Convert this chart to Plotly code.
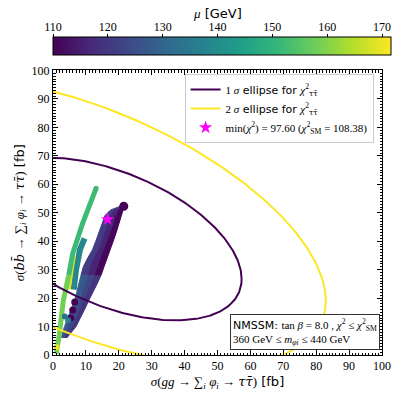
import numpy as np
import plotly.graph_objects as go
from plotly.colors import sample_colorscale

# ---------------- data ----------------
# chi^2 ellipses: centre (x, y) and covariance-like shape matrix
ell1_center = [17.96, 40.78]
ell1_shape = [[1550.1, -552.8], [-552.8, 818.1]]
ell2_center = [10.89, 47.01]
ell2_shape = [[5188.1, -2008.4], [-2008.4, 2533.5]]

# main scan cloud, read row by row: y level, left edge, two colour borders, right edge
rows_y = [6.0, 10, 13, 16, 19, 22, 25, 28, 31, 34, 37, 40, 43, 46, 49, 51, 52.5]
rows_left = [2.5, 3.5, 4.5, 5.5, 6.5, 7.2, 7.8, 8.5, 9.2, 10.5, 12.0, 13.0, 14.0, 15.0, 15.8, 17.5, 20.5]
rows_b1 = [3.1, 4.7, 5.8, 6.9, 8.0, 8.8, 9.8, 10.7, 11.4, 12.6, 13.9, 14.9, 15.8, 16.8, 17.6, 18.8, 21.0]
rows_b2 = [3.7, 5.9, 7.1, 8.3, 9.5, 10.5, 11.7, 12.8, 13.6, 14.6, 15.6, 16.6, 17.5, 18.5, 19.2, 20.1, 21.4]
rows_right = [4.2, 7.0, 8.3, 9.6, 10.8, 12.0, 13.4, 14.6, 15.5, 16.4, 17.3, 18.3, 19.2, 20.1, 20.8, 21.3, 21.8]
split_row = 7          # lower part rows[0..7], upper part rows[7..]
lower_mu = [127, 123, 119]   # left, middle, right strip
upper_mu = [121, 116, 111]

top_x = [21.5]
top_y = [52.3]
top_mu = [110]

dark_x = [5.4, 6.0, 6.6]
dark_y = [13.0, 15.8, 18.6]
dark_mu = [110, 110, 110]

dots_x = [1.1, 3.6, 4.6]
dots_y = [2.7, 13.5, 12.2]
dots_mu = [168, 132, 136]

# thin bands
teal_x = [6.3, 7.0, 8.2, 9.6]
teal_y = [23.0, 30.0, 37.0, 41.0]
teal_mu = 138
yellow_x = [4.9, 5.6, 6.5]
yellow_y = [23.0, 29.0, 35.0]
yellow_mu = 167
green_lo_x = [1.0, 1.9, 3.1, 4.8]
green_lo_y = [0.5, 7.1, 18.9, 28.1]
green_lo_mu = 157
green_hi_x = [4.8, 6.0, 9.0, 13.1]
green_hi_y = [28.1, 35.7, 46.3, 58.6]
green_hi_mu = 151

best_x = [16.6]
best_y = [47.7]

MU_MIN, MU_MAX = 110, 170
cbar_ticks = [110, 120, 130, 140, 150, 160, 170]
axis_ticks = list(range(0, 101, 10))

PURPLE = "#440154"
YELLOW = "#fde725"
SERIF = "Liberation Serif"
SANS = "DejaVu Sans"


def curve(cen, S):
    L = np.linalg.cholesky(np.array(S, float))
    t = np.linspace(0, 2 * np.pi, 400)
    pts = np.array(cen, float)[:, None] + L @ np.vstack([np.cos(t), np.sin(t)])
    return pts[0], pts[1]


def mucol(mu):
    return sample_colorscale("Viridis", [(mu - MU_MIN) / (MU_MAX - MU_MIN)])[0]


fig = go.Figure()

# teal band (behind the cloud)
fig.add_trace(go.Scatter(x=teal_x, y=teal_y, mode="lines", line=dict(color=mucol(teal_mu), width=6),
                         showlegend=False, hoverinfo="skip"))

# main cloud as coloured strips
edges = [rows_left, rows_b1, rows_b2, rows_right]
for lo, hi, mus in [(0, split_row, lower_mu), (split_row, len(rows_y) - 1, upper_mu)]:
    ys = rows_y[lo:hi + 1]
    for k in range(3):
        ea = edges[k][lo:hi + 1]
        eb = edges[k + 1][lo:hi + 1]
        px = list(ea) + list(eb[::-1])
        py = list(ys) + list(ys[::-1])
        col = mucol(mus[k])
        fig.add_trace(go.Scatter(x=px, y=py, mode="lines", fill="toself", fillcolor=col,
                                 line=dict(color=col, width=1), showlegend=False, hoverinfo="skip"))

fig.add_trace(go.Scatter(x=top_x, y=top_y, mode="markers",
                         marker=dict(size=9, color=top_mu, coloraxis="coloraxis", line=dict(width=0)),
                         showlegend=False))
fig.add_trace(go.Scatter(x=dark_x, y=dark_y, mode="markers",
                         marker=dict(size=7, color=dark_mu, coloraxis="coloraxis", line=dict(width=0)),
                         showlegend=False))

for bx, by, bmu, w in [(yellow_x, yellow_y, yellow_mu, 3),
                       (green_lo_x, green_lo_y, green_lo_mu, 5),
                       (green_hi_x, green_hi_y, green_hi_mu, 5)]:
    fig.add_trace(go.Scatter(x=bx, y=by, mode="lines", line=dict(color=mucol(bmu), width=w),
                             showlegend=False, hoverinfo="skip"))
fig.add_trace(go.Scatter(x=[green_hi_x[-1]], y=[green_hi_y[-1]], mode="markers",
                         marker=dict(size=5, color=[green_hi_mu], coloraxis="coloraxis", line=dict(width=0)),
                         showlegend=False))
fig.add_trace(go.Scatter(x=dots_x, y=dots_y, mode="markers",
                         marker=dict(size=6, color=dots_mu, coloraxis="coloraxis", line=dict(width=0)),
                         showlegend=False))

TT = '<span style="font-family:DejaVu Serif">τ</span><span style="font-family:DejaVu Serif">τ̄</span>'
chi = f'<span style="font-family:{SERIF}"><i>χ</i><sup>2</sup><sub>{TT}</sub></span>'
x1, y1 = curve(ell1_center, ell1_shape)
x2, y2 = curve(ell2_center, ell2_shape)
fig.add_trace(go.Scatter(x=x1, y=y1, mode="lines", line=dict(color=PURPLE, width=2),
                         name=f'<span style="font-family:{SERIF}">1 <i>σ</i></span> ellipse for {chi}'))
fig.add_trace(go.Scatter(x=x2, y=y2, mode="lines", line=dict(color=YELLOW, width=2),
                         name=f'<span style="font-family:{SERIF}">2 <i>σ</i></span> ellipse for {chi}'))
fig.add_trace(go.Scatter(x=best_x, y=best_y, mode="markers",
                         marker=dict(symbol="star", size=10, color="#ff00ff", line=dict(width=0)),
                         name=f'<span style="font-family:{SERIF}">min(<i>χ</i><sup>2</sup>) = 97.60 '
                              f'(<i>χ</i><sup>2</sup><sub>SM</sub> = 108.38)</span>'))

# helper axis for the colour bar labels
fig.add_trace(go.Scatter(x=[None], y=[None], xaxis="x2", yaxis="y2", showlegend=False, hoverinfo="skip"))

axis_common = dict(range=[0, 100], tickmode="array", tickvals=axis_ticks, ticks="inside", ticklen=5,
                   tickwidth=1, tickcolor="black", showline=True, linecolor="black", linewidth=1,
                   mirror="allticks", showgrid=False, zeroline=False,
                   minor=dict(dtick=1, tick0=0, ticks="inside", ticklen=2.5, tickwidth=0.8, tickcolor="black"),
                   tickfont=dict(family=SERIF, size=12, color="black"))

TTd = '<span style="font-family:DejaVu Serif"><i>ττ̄</i></span>'
fig.update_layout(
    width=401, height=399,
    margin=dict(l=53, r=10, t=30, b=44),
    paper_bgcolor="white", plot_bgcolor="white",
    xaxis=dict(domain=[0, 1], anchor="y",
               title=dict(text=f'<span style="font-family:{SERIF}"><i>σ</i>(<i>gg</i> → ∑<sub><i>i</i></sub> '
                               f'<i>φ<sub>i</sub></i> → </span>{TTd}<span style="font-family:{SERIF}">)</span> [fb]',
                          font=dict(family=SANS, size=13, color="black"), standoff=4),
               **axis_common),
    yaxis=dict(domain=[0, 0.8754], anchor="x",
               title=dict(text=f'<span style="font-family:{SERIF}"><i>σ</i>(</span>'
                               f'<span style="font-family:DejaVu Serif"><i>bb̄</i></span>'
                               f'<span style="font-family:{SERIF}"> → ∑<sub><i>i</i></sub> '
                               f'<i>φ<sub>i</sub></i> → </span>{TTd}<span style="font-family:{SERIF}">)</span> [fb]',
                          font=dict(family=SANS, size=13, color="black"), standoff=4),
               **axis_common),
    xaxis2=dict(domain=[0, 1], anchor="y2", side="top", range=[MU_MIN, MU_MAX], tickmode="array",
                tickvals=cbar_ticks, ticks="outside", ticklen=3, tickcolor="black", showline=False,
                showgrid=False, zeroline=False, ticklabelstandoff=-2,
                tickfont=dict(family=SERIF, size=12, color="black")),
    yaxis2=dict(domain=[0.92, 0.9754], anchor="x2", range=[0, 1], visible=False),
    coloraxis=dict(colorscale="Viridis", cmin=MU_MIN, cmax=MU_MAX,
                   colorbar=dict(orientation="h", x=0, xanchor="left", y=0.92, yanchor="bottom",
                                 lenmode="pixels", len=338, thicknessmode="pixels", thickness=18,
                                 xpad=0, ypad=0, outlinewidth=1, outlinecolor="black",
                                 showticklabels=False, ticks="")),
    legend=dict(x=0.4, y=0.8646, xanchor="left", yanchor="top", bgcolor="white",
                bordercolor="#cccccc", borderwidth=1, font=dict(family=SANS, size=11, color="black"),
                tracegroupgap=0, itemwidth=30),
    annotations=[dict(xref="paper", yref="paper", x=0.5, y=1.052, xanchor="center", yanchor="middle",
                      showarrow=False, font=dict(family=SANS, size=13, color="black"),
                      text=f'<span style="font-family:{SERIF}"><i>μ</i></span> [GeV]'),
                 dict(xref="paper", yref="paper", x=0.994, y=0.0154, xanchor="right", yanchor="bottom",
                      align="left", showarrow=False, bgcolor="white", bordercolor="#333333",
                      borderwidth=1, borderpad=2,
                      font=dict(family=SANS, size=11, color="black"),
                      text=f'NMSSM: <span style="font-family:{SERIF}">tan <i>β</i> = 8.0 , <i>χ</i><sup>2</sup> ≤ '
                           f'<i>χ</i><sup>2</sup><sub>SM</sub><br>360 GeV ≤ <i>m</i><sub><i>φi</i></sub> ≤ 440 GeV</span>')],
)

fig.write_html("out.html")
